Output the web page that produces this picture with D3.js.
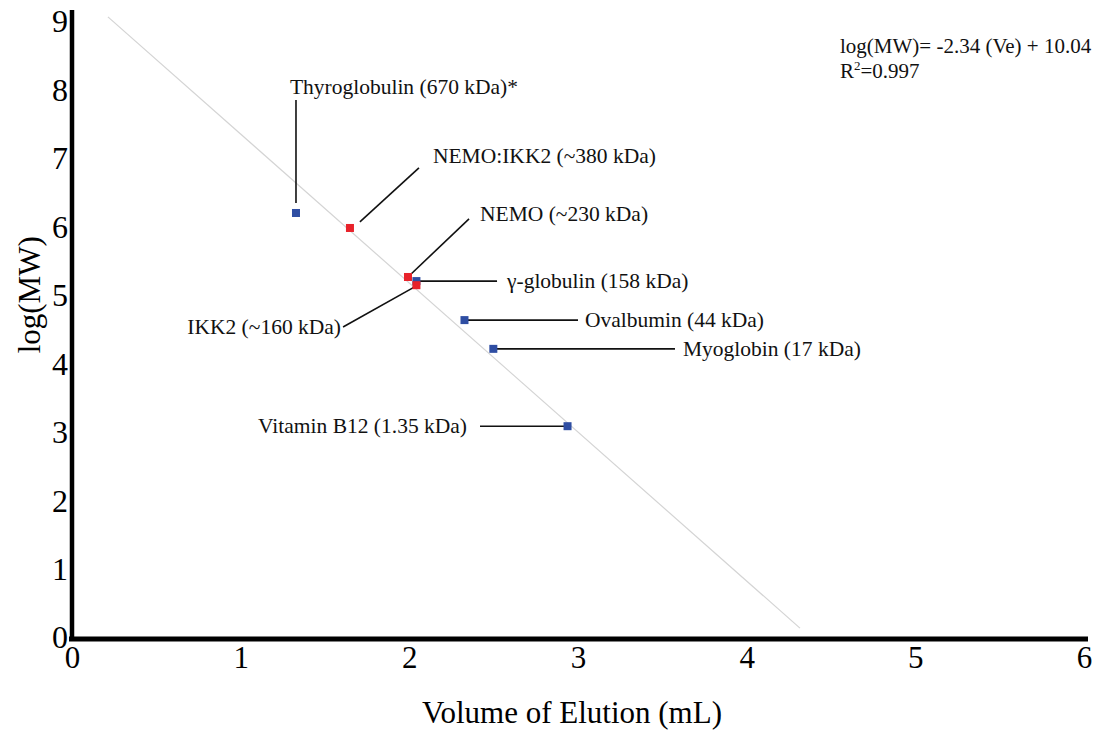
<!DOCTYPE html>
<html>
<head>
<meta charset="utf-8">
<script src="https://cdn.jsdelivr.net/npm/d3@7"></script>
<style>
  body { margin: 0; background: #fff; }
  svg text { font-family: "Liberation Serif", "DejaVu Serif", serif; }
</style>
</head>
<body>
<svg id="chart"></svg>
<script>
// standards (blue) and samples (red): elution volume (mL) vs log(MW)
const standards = [
  { name: "Thyroglobulin (670 kDa)*", ve: 1.328, mw: 6.195 },
  { name: "γ-globulin (158 kDa)", ve: 2.042, mw: 5.20 },
  { name: "Ovalbumin (44 kDa)", ve: 2.327, mw: 4.63 },
  { name: "Myoglobin (17 kDa)", ve: 2.498, mw: 4.21 },
  { name: "Vitamin B12 (1.35 kDa)", ve: 2.938, mw: 3.08 }
];
const samples = [
  { name: "NEMO:IKK2 (~380 kDa)", ve: 1.648, mw: 5.976 },
  { name: "NEMO (~230 kDa)", ve: 1.992, mw: 5.26 },
  { name: "IKK2 (~160 kDa)", ve: 2.042, mw: 5.14 }
];

// fitted line endpoints as drawn
const fitLine = [
  { ve: 0.213, mw: 9.06 },
  { ve: 4.316, mw: 0.13 }
];

// leader lines and label positions, in data units
const labels = [
  { text: "Thyroglobulin (670 kDa)*", from: [1.328, 6.34], to: [1.328, 7.846], at: [1.292, 7.934], anchor: "start" },
  { text: "NEMO:IKK2 (~380 kDa)", from: [1.707, 6.064], to: [2.057, 6.853], at: [2.140, 6.926], anchor: "start" },
  { text: "NEMO (~230 kDa)", from: [1.998, 5.275], to: [2.354, 6.108], at: [2.419, 6.078], anchor: "start" },
  { text: "γ-globulin (158 kDa)", from: [2.042, 5.20], to: [2.520, 5.20], at: [2.579, 5.099], anchor: "start" },
  { text: "IKK2 (~160 kDa)", from: [2.042, 5.13], to: [1.607, 4.530], at: [1.595, 4.427], anchor: "end" },
  { text: "Ovalbumin (44 kDa)", from: [2.327, 4.63], to: [3.0, 4.63], at: [3.041, 4.529], anchor: "start" },
  { text: "Myoglobin (17 kDa)", from: [2.498, 4.21], to: [3.575, 4.21], at: [3.622, 4.106], anchor: "start" },
  { text: "Vitamin B12 (1.35 kDa)", from: [2.419, 3.08], to: [2.938, 3.08], at: [2.342, 2.981], anchor: "end" }
];

const xTicks = [0, 1, 2, 3, 4, 5, 6];
const yTicks = [0, 1, 2, 3, 4, 5, 6, 7, 8, 9];

const serif = "Liberation Serif";
const width = 1098, height = 730;
const margin = { top: 21, right: 14, bottom: 93, left: 72 };

const svg = d3.select("#chart")
    .attr("width", width)
    .attr("height", height)
    .attr("viewBox", [0, 0, width, height])
    .attr("font-family", serif);

const x = d3.scaleLinear()
    .domain([0, 6])
    .range([margin.left, width - margin.right]);

const y = d3.scaleLinear()
    .domain([0, 9])
    .range([height - margin.bottom, margin.top]);

// fit line
svg.append("line")
    .attr("x1", x(fitLine[0].ve))
    .attr("y1", y(fitLine[0].mw))
    .attr("x2", x(fitLine[1].ve))
    .attr("y2", y(fitLine[1].mw))
    .attr("stroke", "#d4d4d4")
    .attr("stroke-width", 1.2);

// x axis
svg.append("g")
    .attr("transform", `translate(0,${y(0) + 2})`)
    .call(d3.axisBottom(x).tickValues(xTicks).tickFormat(d3.format("d"))
        .tickSize(0).tickPadding(7).tickSizeOuter(0))
    .call(g => {
        g.attr("font-family", serif);
        g.select(".domain")
            .attr("d", `M${x(0) - 3},0H${x(6) + 4}`)
            .attr("stroke", "#000")
            .attr("stroke-width", 5);
        g.selectAll(".tick text")
            .attr("font-family", serif)
            .attr("font-size", 31)
            .attr("fill", "#000");
    });

// y axis
svg.append("g")
    .attr("transform", `translate(${x(0)},0)`)
    .call(d3.axisLeft(y).tickValues(yTicks).tickFormat(d3.format("d"))
        .tickSize(0).tickPadding(4).tickSizeOuter(0))
    .call(g => {
        g.attr("font-family", serif);
        g.select(".domain")
            .attr("d", `M0,${y(9) - 11}V${y(0) + 4}`)
            .attr("stroke", "#000")
            .attr("stroke-width", 4.5);
        g.selectAll(".tick text")
            .attr("font-family", serif)
            .attr("font-size", 32)
            .attr("fill", "#000")
            .attr("dy", "0.34em");
    });

// axis titles
svg.append("text")
    .attr("x", (x(0) + x(6)) / 2 - 6)
    .attr("y", height - 7)
    .attr("text-anchor", "middle")
    .attr("font-family", serif)
    .attr("font-size", 31)
    .text("Volume of Elution (mL)");

svg.append("text")
    .attr("transform", `translate(40,${y(5.0)}) rotate(-90)`)
    .attr("text-anchor", "middle")
    .attr("font-family", serif)
    .attr("font-size", 31)
    .text("log(MW)");

// leader lines
svg.selectAll(".leader")
  .data(labels)
  .join("line")
    .attr("class", "leader")
    .attr("x1", d => x(d.from[0]))
    .attr("y1", d => y(d.from[1]))
    .attr("x2", d => x(d.to[0]))
    .attr("y2", d => y(d.to[1]))
    .attr("stroke", "#111")
    .attr("stroke-width", 1.6);

svg.selectAll(".label")
  .data(labels)
  .join("text")
    .attr("class", "label")
    .attr("x", d => x(d.at[0]))
    .attr("y", d => y(d.at[1]))
    .attr("text-anchor", d => d.anchor)
    .attr("font-family", serif)
    .attr("font-size", 21.5)
    .attr("fill", "#111")
    .text(d => d.text);

// points
const size = 8;
svg.selectAll(".std")
  .data(standards)
  .join("rect")
    .attr("class", "std")
    .attr("x", d => x(d.ve) - size / 2)
    .attr("y", d => y(d.mw) - size / 2)
    .attr("width", size)
    .attr("height", size)
    .attr("fill", "#2f4ea3");

svg.selectAll(".smp")
  .data(samples)
  .join("rect")
    .attr("class", "smp")
    .attr("x", d => x(d.ve) - size / 2)
    .attr("y", d => y(d.mw) - size / 2)
    .attr("width", size)
    .attr("height", size)
    .attr("fill", "#e8222a");

// equation
const eq = svg.append("text")
    .attr("x", 840)
    .attr("y", 53)
    .attr("font-family", serif)
    .attr("font-size", 21)
    .attr("fill", "#111");
eq.append("tspan").text("log(MW)= -2.34 (Ve) + 10.04");
const r2 = svg.append("text")
    .attr("x", 840)
    .attr("y", 78)
    .attr("font-family", serif)
    .attr("font-size", 21)
    .attr("fill", "#111");
r2.append("tspan").text("R");
r2.append("tspan").attr("font-size", 13).attr("dy", -8).text("2");
r2.append("tspan").attr("dy", 8).text("=0.997");
</script>
</body>
</html>
